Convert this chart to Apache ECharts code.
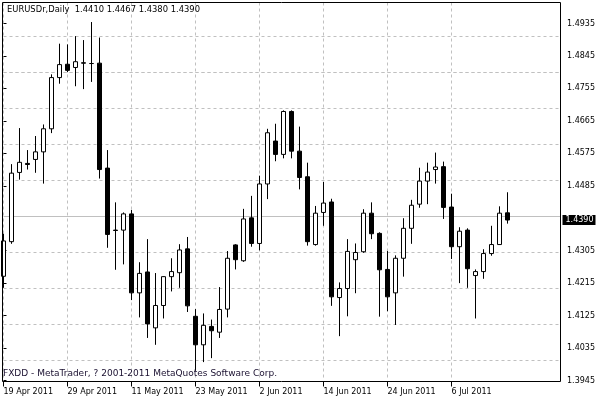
<!DOCTYPE html>
<html>
<head>
<meta charset="utf-8">
<script src="https://cdn.jsdelivr.net/npm/echarts@6/dist/echarts.min.js"></script>
<style>html,body{margin:0;padding:0;background:#fff;}#c{width:600px;height:400px;}</style>
</head>
<body>
<div id="c"></div>
<script>
const symbolName = 'EURUSDr';
const period = 'Daily';
const footerText = 'FXDD - MetaTrader, ? 2001-2011 MetaQuotes Software Corp.';
const dates = ['19 Apr 2011','20 Apr 2011','21 Apr 2011','22 Apr 2011','25 Apr 2011','26 Apr 2011','27 Apr 2011','28 Apr 2011','29 Apr 2011',
 '2 May 2011','3 May 2011','4 May 2011','5 May 2011','6 May 2011','9 May 2011','10 May 2011','11 May 2011','12 May 2011','13 May 2011',
 '16 May 2011','17 May 2011','18 May 2011','19 May 2011','20 May 2011','23 May 2011','24 May 2011','25 May 2011','26 May 2011','27 May 2011',
 '30 May 2011','31 May 2011','1 Jun 2011','2 Jun 2011','3 Jun 2011','6 Jun 2011','7 Jun 2011','8 Jun 2011','9 Jun 2011','10 Jun 2011',
 '13 Jun 2011','14 Jun 2011','15 Jun 2011','16 Jun 2011','17 Jun 2011','20 Jun 2011','21 Jun 2011','22 Jun 2011','23 Jun 2011','24 Jun 2011',
 '27 Jun 2011','28 Jun 2011','29 Jun 2011','30 Jun 2011','1 Jul 2011','4 Jul 2011','5 Jul 2011','6 Jul 2011','7 Jul 2011','8 Jul 2011',
 '11 Jul 2011','12 Jul 2011','13 Jul 2011','14 Jul 2011','15 Jul 2011'];
const open = [1.4234,1.4330,1.4522,1.4547,1.4558,1.4579,1.4643,1.4785,1.4822,1.4813,
 1.4826,1.4824,1.4825,1.4534,1.4362,1.4362,1.4407,1.4188,1.4246,1.4091,
 1.4153,1.4233,1.4244,1.4310,1.4123,1.4044,1.4095,1.4079,1.4143,1.4321,
 1.4277,1.4396,1.4325,1.4490,1.4609,1.4572,1.4691,1.4581,1.4510,1.4322,
 1.4411,1.4440,1.4175,1.4200,1.4280,1.4302,1.4409,1.4353,1.4253,1.4188,
 1.4284,1.4367,1.4434,1.4498,1.4530,1.4538,1.4426,1.4316,1.4362,1.4236,
 1.4247,1.4297,1.4322,1.4410];
const high = [1.4352,1.4545,1.4645,1.4584,1.4623,1.4655,1.4794,1.4879,1.4877,1.4900,
 1.4889,1.4939,1.4896,1.4584,1.4439,1.4411,1.4418,1.4273,1.4337,1.4243,
 1.4234,1.4284,1.4323,1.4343,1.4143,1.4131,1.4114,1.4204,1.4304,1.4323,
 1.4421,1.4457,1.4513,1.4643,1.4657,1.4694,1.4694,1.4649,1.4549,1.4429,
 1.4496,1.4449,1.4217,1.4337,1.4325,1.4420,1.4439,1.4356,1.4304,1.4292,
 1.4395,1.4446,1.4535,1.4549,1.4577,1.4552,1.4463,1.4370,1.4367,1.4253,
 1.4309,1.4374,1.4428,1.4467];
const low = [1.4202,1.4324,1.4502,1.4530,1.4521,1.4491,1.4631,1.4768,1.4800,1.4761,
 1.4753,1.4773,1.4505,1.4313,1.4252,1.4267,1.4168,1.4120,1.4063,1.4044,
 1.4117,1.4192,1.4202,1.4135,1.3972,1.3996,1.4007,1.4063,1.4120,1.4253,
 1.4274,1.4316,1.4306,1.4448,1.4553,1.4561,1.4561,1.4475,1.4319,1.4319,
 1.4374,1.4152,1.4068,1.4123,1.4187,1.4299,1.4337,1.4122,1.4137,1.4099,
 1.4233,1.4324,1.4424,1.4434,1.4491,1.4393,1.4282,1.4215,1.4202,1.4117,
 1.4227,1.4291,1.4322,1.4380];
const close = [1.4332,1.4520,1.4550,1.4544,1.4579,1.4643,1.4785,1.4821,1.4805,1.4829,
 1.4825,1.4824,1.4530,1.4350,1.4361,1.4407,1.4188,1.4242,1.4102,1.4153,
 1.4233,1.4247,1.4307,1.4152,1.4044,1.4098,1.4083,1.4142,1.4284,1.4280,
 1.4393,1.4325,1.4490,1.4632,1.4572,1.4691,1.4581,1.4508,1.4330,1.4409,
 1.4437,1.4177,1.4200,1.4303,1.4300,1.4409,1.4352,1.4252,1.4177,1.4284,
 1.4367,1.4431,1.4498,1.4523,1.4537,1.4425,1.4316,1.4359,1.4255,1.4247,
 1.4297,1.4322,1.4409,1.4390];
const priceTicks = [1.4935,1.4845,1.4755,1.4665,1.4575,1.4485,1.4395,1.4305,1.4215,1.4125,1.4035,1.3945];
const dateLabelIdx = [0,8,16,24,32,40,48,56];

const last = dates.length - 1;
const lastPrice = close[last];
const header = symbolName + ',' + period + '  ' + open[last].toFixed(4) + ' ' + high[last].toFixed(4) + ' ' + low[last].toFixed(4) + ' ' + close[last].toFixed(4);
const candles = dates.map((d, i) => [i, open[i], close[i], low[i], high[i]]);
const FONT = 'DejaVu Sans';
// the grid tick nearest the current price is covered by the price marker
const hiddenTick = priceTicks.reduce((a, b) => Math.abs(b - lastPrice) < Math.abs(a - lastPrice) ? b : a);
const shownTicks = priceTicks.filter(v => v !== hiddenTick);
const yLabelValues = shownTicks.concat([lastPrice]);

const gridLines = shownTicks.map(v => ({
  yAxis: v, lineStyle: {type: [3, 3], color: '#c0c0c0', width: 1}, label: {show: false}
}));
gridLines.push({yAxis: lastPrice, lineStyle: {type: 'solid', color: '#c0c0c0', width: 1}, label: {show: false}});

const chart = echarts.init(document.getElementById('c'), null, {renderer: 'canvas'});
chart.setOption({
  animation: false,
  backgroundColor: '#fff',
  title: [
    {text: header, left: 7, top: 6, padding: 0, textStyle: {fontFamily: FONT, fontSize: 8.4, fontWeight: 'normal', color: '#000'}},
    {text: footerText, left: 3, top: 369, padding: 0, textStyle: {fontFamily: FONT, fontSize: 9, fontWeight: 'normal', color: '#1a1030'}}
  ],
  grid: [
    {left: 3.5, top: 2.5, right: 39.5, bottom: 19.5, show: false},
    {left: 2.5, top: 2.5, right: 39.5, bottom: 18.5, show: true, borderColor: '#000', borderWidth: 1, backgroundColor: 'transparent', z: 10}
  ],
  xAxis: [
    {type: 'value', gridIndex: 0, min: 0, max: 69.625, interval: 4, offset: 1,
     axisLine: {show: false},
     axisTick: {show: true, length: 5, lineStyle: {color: '#000'}, customValues: dateLabelIdx},
     axisLabel: {show: true, customValues: dateLabelIdx, margin: 6, align: 'left', fontFamily: FONT, fontSize: 8, color: '#000',
       formatter: v => (Math.round(v) % 8 === 0 && dates[Math.round(v)]) ? dates[Math.round(v)] : ''},
     splitLine: {show: true, lineStyle: {type: [3, 3], color: '#c0c0c0', width: 1}}},
    {type: 'value', gridIndex: 1, min: 0, max: 1, show: false}
  ],
  yAxis: [
    {type: 'value', gridIndex: 0, position: 'right', min: 1.3945, max: 1.49932, interval: 0.009, scale: true,
     axisLine: {show: false},
     axisTick: {show: true, length: 3, lineStyle: {color: '#000'}, customValues: shownTicks},
     axisLabel: {show: true, customValues: yLabelValues, margin: 2, fontFamily: FONT, fontSize: 8, color: '#000',
       formatter: v => Math.abs(v - lastPrice) < 1e-7 ? '{p|' + v.toFixed(4) + '}' : '{n|' + v.toFixed(4) + '}',
       rich: {
         p: {backgroundColor: '#000', color: '#fff', fontFamily: FONT, fontSize: 8, lineHeight: 10, padding: [1, 2, 1, 3]},
         n: {color: '#000', fontFamily: FONT, fontSize: 8, lineHeight: 10, padding: [0, 0, 0, 4.5]}
       }},
     splitLine: {show: false}},
    {type: 'value', gridIndex: 1, min: 0, max: 1, show: false}
  ],
  series: [{
    type: 'candlestick',
    xAxisIndex: 0, yAxisIndex: 0,
    data: candles,
    barWidth: 4,
    clip: true,
    itemStyle: {color: '#fff', color0: '#000', borderColor: '#000', borderColor0: '#000', borderWidth: 1},
    markLine: {silent: true, symbol: ['none', 'none'], z: 1, animation: false, data: gridLines}
  }]
});
</script>
</body>
</html>
